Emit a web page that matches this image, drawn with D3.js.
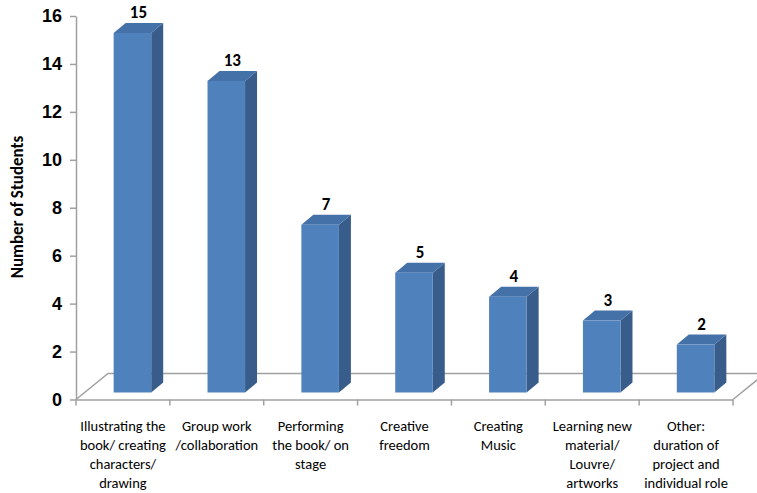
<!DOCTYPE html>
<html>
<head>
<meta charset="utf-8">
<script src="https://cdn.jsdelivr.net/npm/d3@7"></script>
<style>
  body { margin: 0; background: #fff; }
  svg { display: block; font-family: Carlito, "Open Sans", "Noto Sans", sans-serif; }
  .axis path, .axis line { stroke: #a0a0a0; stroke-width: 1.5; }
</style>
</head>
<body>
<script>
// data
const categories = [
  ['Illustrating the', 'book/ creating', 'characters/', 'drawing'],
  ['Group work', '/collaboration'],
  ['Performing', 'the book/ on', 'stage'],
  ['Creative', 'freedom'],
  ['Creating', 'Music'],
  ['Learning new', 'material/', 'Louvre/', 'artworks'],
  ['Other:', 'duration of', 'project and', 'individual role']
]
const values = [15, 13, 7, 5, 4, 3, 2]
const yTicks = [0, 2, 4, 6, 8, 10, 12, 14, 16]

const width = 757, height = 493
const plotLeft = 76, plotRight = 733, plotTop = 16, plotBottom = 399.5

// 3d offsets: floor depth, bar front offset, bar depth
const floor = {dx: 32, dy: -26}
const front = {dx: 9.5, dy: -7}
const depth = {dx: 12, dy: -10}

const svg = d3.select('body').append('svg')
  .attr('width', width)
  .attr('height', height)

const keys = categories.map((d, i) => i)
const x = d3.scaleBand().domain(keys).range([plotLeft, plotRight])
const y = d3.scaleLinear().domain([0, 16]).range([plotBottom, plotTop])

// floor
const g = svg.append('g')
g.append('path')
  .attr('d', 'M' + plotLeft + ',' + plotBottom
    + 'L' + (plotLeft + floor.dx) + ',' + (plotBottom + floor.dy)
    + 'L' + (plotRight + floor.dx) + ',' + (plotBottom + floor.dy)
    + 'L' + plotRight + ',' + plotBottom)
  .attr('fill', 'none')
  .attr('stroke', '#a0a0a0')
  .attr('stroke-width', 1.5)

// bars
const barW = x.bandwidth() * 0.4
const bars = g.selectAll('.bar')
  .data(values)
  .enter().append('g')
  .attr('class', 'bar')

function bx(i) { return x(i) + (x.bandwidth() - barW) / 2 + front.dx }
function by(v) { return y(v) + front.dy }
const base = y(0) + front.dy

// side face
bars.append('path')
  .attr('fill', '#385d8a')
  .attr('d', function (d, i) {
    const x1 = bx(i) + barW
    return 'M' + x1 + ',' + base
      + 'L' + x1 + ',' + by(d)
      + 'L' + (x1 + depth.dx) + ',' + (by(d) + depth.dy)
      + 'L' + (x1 + depth.dx) + ',' + (base + depth.dy) + 'Z'
  })
// top face
bars.append('path')
  .attr('fill', '#4471a8')
  .attr('d', function (d, i) {
    const x0 = bx(i), t = by(d)
    return 'M' + x0 + ',' + t
      + 'L' + (x0 + depth.dx) + ',' + (t + depth.dy)
      + 'L' + (x0 + barW + depth.dx) + ',' + (t + depth.dy)
      + 'L' + (x0 + barW) + ',' + t + 'Z'
  })
// front face
bars.append('rect')
  .attr('fill', '#4f81bd')
  .attr('x', (d, i) => bx(i))
  .attr('y', d => by(d))
  .attr('width', barW)
  .attr('height', d => base - by(d))

// value labels
bars.append('text')
  .attr('x', (d, i) => bx(i) + barW / 2 + depth.dx / 2)
  .attr('y', d => by(d) + depth.dy - 5)
  .attr('text-anchor', 'middle')
  .attr('font-size', 17)
  .attr('font-weight', 'bold')
  .attr('fill', '#000')
  .text(d => d)

// y axis
svg.append('g')
  .attr('class', 'axis')
  .attr('transform', 'translate(' + plotLeft + ',0)')
  .call(d3.axisLeft(y).tickValues(yTicks).tickSize(6).tickSizeOuter(0).tickPadding(8))
  .call(a => a.selectAll('text')
    .attr('font-size', 18).attr('font-weight', 'bold').attr('fill', '#000')
    .style('font-family', 'inherit'))

// x axis (front floor edge with ticks)
const xAxis = svg.append('g')
  .attr('class', 'axis')
  .attr('transform', 'translate(0,' + plotBottom + ')')
  .call(d3.axisBottom(x).tickValues([]).tickSizeOuter(0))
xAxis.selectAll('.sep')
  .data(d3.range(categories.length + 1))
  .enter().append('line')
  .attr('class', 'sep')
  .attr('x1', i => plotLeft + i * x.bandwidth())
  .attr('x2', i => plotLeft + i * x.bandwidth())
  .attr('y1', 0).attr('y2', 6)

// category labels
const lab = svg.selectAll('.cat')
  .data(categories)
  .enter().append('text')
  .attr('class', 'cat')
  .attr('text-anchor', 'middle')
  .attr('font-size', 14.5)
  .attr('fill', '#000')
lab.selectAll('tspan')
  .data((d, i) => d.map(s => ({s: s, i: i})))
  .enter().append('tspan')
  .attr('x', d => x(d.i) + x.bandwidth() / 2)
  .attr('y', (d, j) => 431 + j * 19)
  .text(d => d.s)

// y axis title
svg.append('text')
  .attr('transform', 'translate(23,' + 207 + ') rotate(-90)')
  .attr('text-anchor', 'middle')
  .attr('font-size', 17)
  .attr('font-weight', 'bold')
  .text('Number of Students')
</script>
</body>
</html>
